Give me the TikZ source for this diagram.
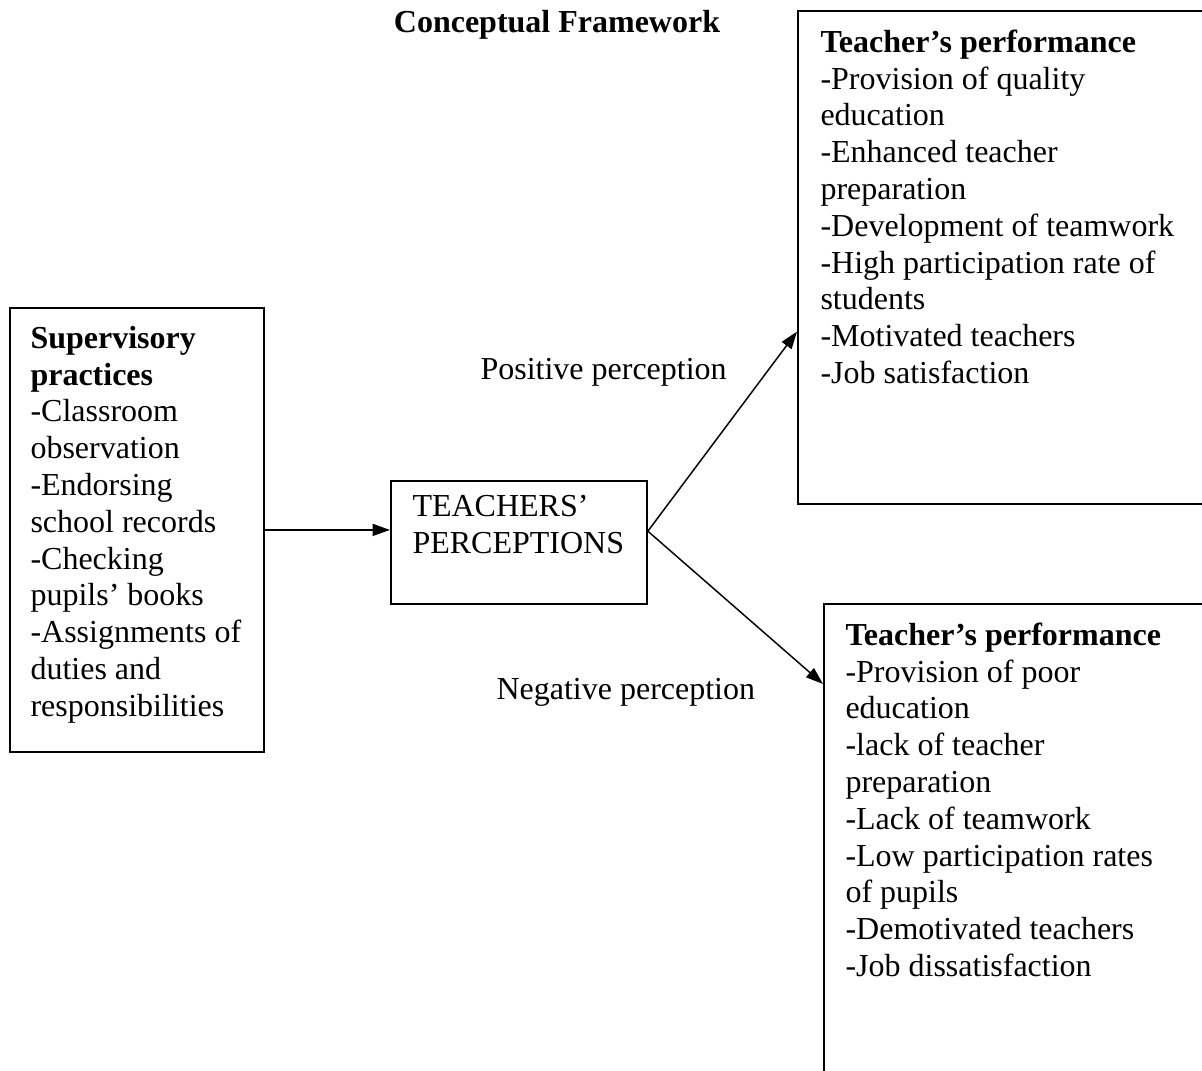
\documentclass[tikz,border=0pt]{standalone}
\usepackage{fontspec}
\setmainfont{Liberation Serif}
\usetikzlibrary{arrows.meta,calc}

\tikzset{
  box/.style={draw,line width=0.7pt,anchor=north west,inner sep=0pt},
  txt/.style={anchor=north west,align=left,inner sep=0pt,font=\fontsize{12}{13.8}\selectfont},
  lbl/.style={anchor=base west,inner sep=0pt,font=\fontsize{12}{13.8}\selectfont},
  link/.style={line width=0.55pt,-{Triangle[length=6.5pt,width=4.5pt]}}
}

\begin{document}
\begin{tikzpicture}[x=0.375pt,y=-0.375pt]
    \useasboundingbox (0,0) rectangle (1202,1071);
    %title
    \node[lbl,anchor=base,font=\fontsize{12}{13.8}\selectfont\bfseries] (title) at (557,33) {Conceptual Framework};
    %boxes
    \node[box,minimum width=254*0.375pt,minimum height=444*0.375pt] (supBox) at (9,307) {};
    \node[box,minimum width=256*0.375pt,minimum height=123*0.375pt] (percBox) at (390,480) {};
    \node[box,minimum width=423*0.375pt,minimum height=493*0.375pt] (posBox) at (797,10) {};
    \node[box,minimum width=400*0.375pt,minimum height=500*0.375pt] (negBox) at (823,603) {};
    %texts
    \node[txt] (supText) at (30,322) {\strut\textbf{Supervisory}\\ \textbf{practices}\\ -Classroom\\ observation\\ -Endorsing\\ school records\\ -Checking\\ pupils’ books\\ -Assignments of\\ duties and\\ responsibilities};
    \node[txt] (percText) at (412,490) {\strut TEACHERS’\\ PERCEPTIONS};
    \node[txt] (posText) at (820,26) {\strut\textbf{Teacher’s performance}\\ -Provision of quality\\ education\\ -Enhanced teacher\\ preparation\\ -Development of teamwork\\ -High participation rate of\\ students\\ -Motivated teachers\\ -Job satisfaction};
    \node[txt] (negText) at (845,619) {\strut\textbf{Teacher’s performance}\\ -Provision of poor\\ education\\ -lack of teacher\\ preparation\\ -Lack of teamwork\\ -Low participation rates\\ of pupils\\ -Demotivated teachers\\ -Job dissatisfaction};
    \node[lbl] (posLabel) at (480,380) {Positive perception};
    \node[lbl] (negLabel) at (496,700) {Negative perception};
    %connectors
    \coordinate (fork) at ($(percBox.north east)!0.41!(percBox.south east)$);
    \draw[link] (supBox.east) -- (supBox.east -| percBox.west);
    \draw[link] (fork) -- ($(posBox.north west)!0.65!(posBox.south west)$);
    \draw[link] (fork) -- ($(negBox.north west)+(0,81)$);
\end{tikzpicture}
\end{document}
